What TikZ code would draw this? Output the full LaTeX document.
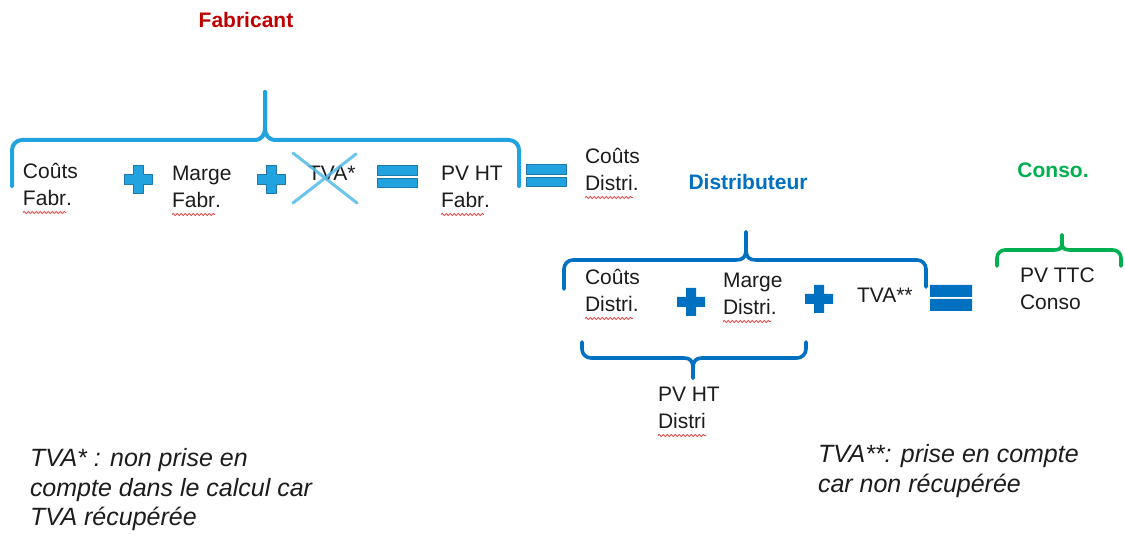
\documentclass[tikz,border=0pt]{standalone}
\usepackage{fontspec}
\setmainfont{Liberation Sans}
\usetikzlibrary{decorations.pathmorphing}

\definecolor{skyblue}{RGB}{32,163,222}
\definecolor{skyedge}{RGB}{30,120,172}
\definecolor{deepblue}{RGB}{0,112,192}
\definecolor{consogreen}{RGB}{0,176,80}
\definecolor{fabred}{RGB}{192,0,0}
\definecolor{crossblue}{RGB}{80,186,232}
\definecolor{spellred}{RGB}{236,70,70}
\definecolor{ink}{RGB}{28,28,28}

% two or three lines of text whose baseline is the first line's
\newcommand\twoline[2]{\vtop{\baselineskip=27pt\hbox{#1}\hbox{#2}}}
\newcommand\noteA[3]{\vtop{\baselineskip=29.5pt\hbox{#1}\hbox{#2}\hbox{#3}}}
\newcommand\noteB[2]{\vtop{\baselineskip=29.5pt\hbox{#1}\hbox{#2}}}
% word with a wavy red underline
\newcommand\misspelt[1]{\tikz[baseline=0pt]{\node[inner sep=0pt,outer sep=0pt,anchor=base west](mw) at (0pt,0pt){#1};\draw[spellmark,overlay]([yshift=-6.5pt]mw.base west) -- ([yshift=-6.5pt]mw.base east);}}

\tikzset{
  spellmark/.style={draw=spellred,line width=0.8pt,decorate,
    decoration={snake,segment length=4pt,amplitude=1.2pt}},
  label/.style={inner sep=0pt,outer sep=0pt,anchor=base west,text=ink,
    font=\fontsize{21}{27}\selectfont},
  title/.style={inner sep=0pt,outer sep=0pt,anchor=base,
    font=\fontsize{21}{25}\selectfont\bfseries},
  note/.style={inner sep=0pt,outer sep=0pt,anchor=base west,text=ink,
    font=\fontsize{25}{29.5}\selectfont\itshape},
  bracesky/.style={draw=skyblue,line width=4pt},
  bracedeep/.style={draw=deepblue,line width=3.6pt},
  bracegreen/.style={draw=consogreen,line width=3.6pt},
  plusA/.pic={\path[fill=skyblue,draw=skyedge,line width=1pt]
    (-14,-5) -- (-5,-5) -- (-5,-14) -- (5,-14) -- (5,-5) -- (14,-5)
    -- (14,5) -- (5,5) -- (5,14) -- (-5,14) -- (-5,5) -- (-14,5) -- cycle;},
  plusB/.pic={\path[fill=deepblue]
    (-14,-5) -- (-5,-5) -- (-5,-14) -- (5,-14) -- (5,-5) -- (14,-5)
    -- (14,5) -- (5,5) -- (5,14) -- (-5,14) -- (-5,5) -- (-14,5) -- cycle;},
  equalsA/.pic={\path[fill=skyblue,draw=skyedge,line width=1pt]
    (-20,-11) rectangle (20,-1.5) (-20,1.5) rectangle (20,11);},
  equalsB/.pic={\path[fill=deepblue]
    (-21,-13) rectangle (21,-1) (-21,1) rectangle (21,13);},
}

\begin{document}
\begin{tikzpicture}[x=1pt,y=-1pt,line cap=round,line join=round]
\useasboundingbox[fill=white] (0,0) rectangle (1125,534);

% ---- Fabricant ----
\node[title,text=fabred] (fab) at (246,28) {Fabricant};
\draw[bracesky] (265,92) -- (265,127) .. controls (265,135) and (262,140) .. (254,140)
  [rounded corners=10] -- (12,140) -- (12,186);
\draw[bracesky] (265,92) -- (265,127) .. controls (265,135) and (268,140) .. (276,140)
  [rounded corners=10] -- (519,140) -- (519,186);

\node[label] (cf) at (23,179) {\twoline{Coûts}{\misspelt{Fabr}.}};
\pic at (138,180) {plusA};
\node[label] (mf) at (172,181) {\twoline{Marge}{\misspelt{Fabr}.}};
\pic at (271,180) {plusA};
\node[label] (tva1) at (308,181) {TVA*};
\draw[crossblue,line width=3pt,opacity=0.85] (293,153) -- (357,203) (293,203) -- (356,154);
\pic at (397,177) {equalsA};
\node[label] (pvf) at (441,181) {\twoline{PV HT}{\misspelt{Fabr}.}};
\pic at (546,176) {equalsA};
\node[label] (cd1) at (585,164) {\twoline{Coûts}{\misspelt{Distri}.}};

% ---- Distributeur ----
\node[title,text=deepblue] (dis) at (748,190) {Distributeur};
\draw[bracedeep] (746,232) -- (746,250) .. controls (746,257) and (743,260) .. (736,260)
  [rounded corners=9] -- (564,260) -- (564,289);
\draw[bracedeep] (746,232) -- (746,250) .. controls (746,257) and (749,260) .. (756,260)
  [rounded corners=9] -- (926,260) -- (926,287);

\node[label] (cd2) at (585,285) {\twoline{Coûts}{\misspelt{Distri}.}};
\pic at (691,302) {plusB};
\node[label] (md) at (723,288) {\twoline{Marge}{\misspelt{Distri}.}};
\pic at (819,299) {plusB};
\node[label] (tva2) at (857,303) {TVA**};
\pic at (951,298) {equalsB};

% lower brace grouping costs and margin
\draw[bracedeep] (693,378) -- (693,368) .. controls (693,361) and (690,358) .. (684,358)
  [rounded corners=9] -- (582,358) -- (582,342);
\draw[bracedeep] (693,378) -- (693,368) .. controls (693,361) and (696,358) .. (702,358)
  [rounded corners=9] -- (806,358) -- (806,342);
\node[label] (pvd) at (658,402) {\twoline{PV HT}{\misspelt{Distri}}};

% ---- Conso. ----
\node[title,text=consogreen] (con) at (1053,178) {Conso.};
\draw[bracegreen] (1062,235) -- (1062,243) .. controls (1062,248) and (1060,250) .. (1054,250)
  [rounded corners=8] -- (997,250) -- (997,266);
\draw[bracegreen] (1062,235) -- (1062,243) .. controls (1062,248) and (1064,250) .. (1070,250)
  [rounded corners=8] -- (1121,250) -- (1121,266);
\node[label] (pvc) at (1020,283) {\twoline{PV TTC}{Conso}};

% ---- notes ----
\node[note] (n1) at (30,467) {\noteA{TVA* : non prise en}{compte dans le calcul car}{TVA récupérée}};
\node[note] (n2) at (818,463) {\noteB{TVA**: prise en compte}{car non récupérée}};
\end{tikzpicture}
\end{document}
